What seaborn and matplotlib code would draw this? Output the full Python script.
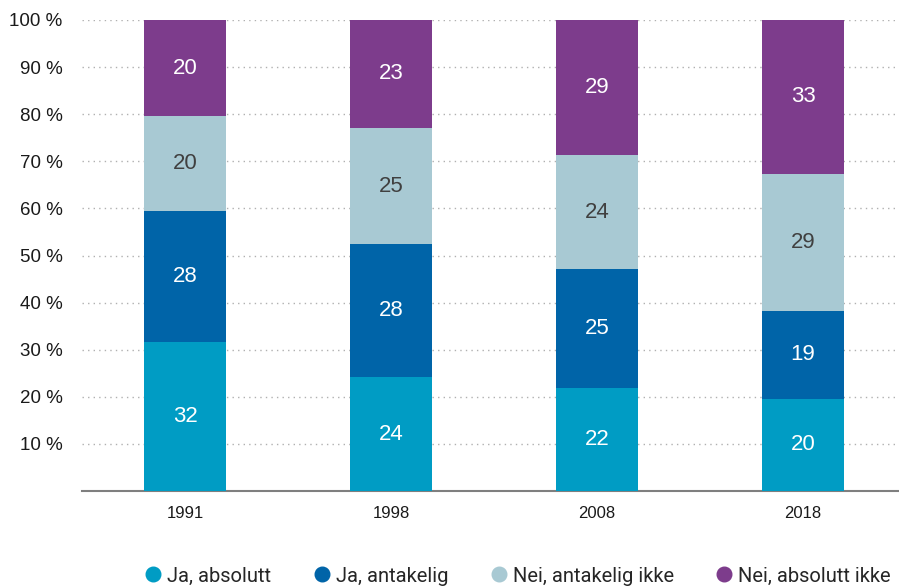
import matplotlib
matplotlib.use("Agg")
import matplotlib.pyplot as plt
import seaborn as sns
import pandas as pd
import numpy as np
from matplotlib.lines import Line2D

years = ["1991", "1998", "2008", "2018"]
series = ["Ja, absolutt", "Ja, antakelig", "Nei, antakelig ikke", "Nei, absolutt ikke"]
ja_absolutt = [31.6, 24.2, 21.9, 19.6]
ja_antakelig = [27.8, 28.2, 25.2, 18.6]
nei_antakelig = [20.2, 24.7, 24.2, 29.2]
nei_absolutt = [20.4, 22.9, 28.7, 32.6]
labels = [[32, 24, 22, 20], [28, 28, 25, 19], [20, 25, 24, 29], [20, 23, 29, 33]]
colors = ["#009cc4", "#0064a8", "#a8c9d3", "#7d3c8c"]
text_colors = ["white", "white", "#404040", "white"]

sns.set_theme(style="white")
plt.rcParams["font.family"] = ["Liberation Sans", "DejaVu Sans"]

vals = np.array([ja_absolutt, ja_antakelig, nei_antakelig, nei_absolutt])
cum = np.cumsum(vals, axis=0)

fig = plt.figure(figsize=(8.99, 5.87), dpi=100)
ax = fig.add_axes([82 / 899, 96 / 587, 824 / 899, 471 / 587])

for i in range(3, -1, -1):
    df = pd.DataFrame({"year": years, "value": cum[i]})
    sns.barplot(data=df, x="year", y="value", color=colors[i], width=0.4,
                saturation=1, linewidth=0, ax=ax, zorder=3)

for i in range(4):
    for j in range(4):
        mid = cum[i][j] - vals[i][j] / 2
        ax.text(j, mid, str(labels[i][j]), ha="center", va="center",
                fontsize=16, color=text_colors[i], zorder=4)

ax.set_ylim(0, 100)
ax.set_xlim(-0.5, 3.5)
ax.set_yticks(range(10, 101, 10))
ax.set_yticklabels([f"{v} %" for v in range(10, 101, 10)], fontsize=13.5, color="#1a1a1a")
ax.tick_params(axis="y", length=0, pad=14)
ax.tick_params(axis="x", length=0, pad=11, labelsize=12, labelcolor="#1a1a1a")
ax.set_xlabel("")
ax.set_ylabel("")
ax.yaxis.grid(True, linestyle=(0, (1, 3)), color="#b0b0b0", linewidth=1, zorder=0)
for s in ["left", "right", "top"]:
    ax.spines[s].set_visible(False)
ax.spines["bottom"].set_color("#7f7f7f")
ax.spines["bottom"].set_linewidth(1.5)

handles = [Line2D([0], [0], marker="o", linestyle="", markersize=10.5,
                  markerfacecolor=c, markeredgecolor=c) for c in colors]
fig.legend(handles, series, loc="center", bbox_to_anchor=(517 / 899, 1 - 576 / 587), ncol=4,
           frameon=False, handlelength=1.0, handletextpad=0.2, columnspacing=2.0,
           borderpad=0, prop={"family": ["Roboto", "DejaVu Sans"], "size": 14.5})

fig.savefig("out.png", dpi=100)
